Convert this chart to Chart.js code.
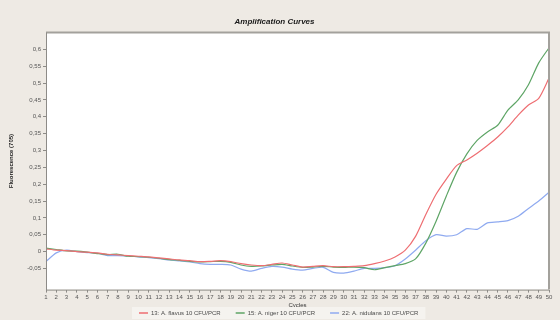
<!DOCTYPE html>
<html>
<head>
<meta charset="utf-8">
<script src="https://cdn.jsdelivr.net/npm/chart.js@4/dist/chart.umd.min.js"></script>
<style>
  html, body { margin: 0; padding: 0; background: #eeeae4; }
  #wrap { width: 560px; height: 320px; position: relative; }
</style>
</head>
<body>
<div id="wrap"><canvas id="c" width="560" height="320"></canvas></div>
<script>
// PCR cycle numbers
const cycles = Array.from({length: 50}, (_, i) => String(i + 1));

// Fluorescence per cycle for each sample
const flavus = [
  0.008, 0.004, 0.003, 0.000, -0.002, -0.004, -0.008, -0.010, -0.012, -0.014,
  -0.016, -0.019, -0.022, -0.025, -0.027, -0.030, -0.029, -0.027, -0.030, -0.036,
  -0.040, -0.042, -0.038, -0.034, -0.040, -0.046, -0.044, -0.042, -0.045, -0.045,
  -0.044, -0.042, -0.036, -0.028, -0.016, 0.004, 0.045, 0.110, 0.170, 0.215,
  0.255, 0.272, 0.292, 0.315, 0.340, 0.370, 0.405, 0.435, 0.455, 0.515
];
const niger = [
  0.010, 0.006, 0.002, 0.001, -0.002, -0.006, -0.009, -0.008, -0.014, -0.015,
  -0.017, -0.020, -0.024, -0.026, -0.029, -0.031, -0.030, -0.029, -0.032, -0.040,
  -0.044, -0.043, -0.040, -0.038, -0.043, -0.047, -0.046, -0.044, -0.046, -0.047,
  -0.046, -0.048, -0.054, -0.048, -0.042, -0.036, -0.022, 0.025, 0.090, 0.165,
  0.235, 0.290, 0.330, 0.355, 0.375, 0.420, 0.450, 0.495, 0.560, 0.605
];
const nidulans = [
  -0.030, -0.004, 0.004, 0.000, -0.003, -0.005, -0.012, -0.012, -0.013, -0.016,
  -0.018, -0.021, -0.025, -0.028, -0.031, -0.036, -0.038, -0.038, -0.040, -0.052,
  -0.058, -0.050, -0.044, -0.046, -0.052, -0.055, -0.050, -0.047, -0.062, -0.064,
  -0.058, -0.050, -0.050, -0.048, -0.042, -0.022, 0.004, 0.032, 0.050, 0.046,
  0.050, 0.068, 0.066, 0.085, 0.088, 0.092, 0.105, 0.128, 0.150, 0.176
];

// Series names
const seriesNames = [
  '13: A. flavus 10 CFU/PCR',
  '15: A. niger 10 CFU/PCR',
  '22: A. nidulans 10 CFU/PCR'
];

// Y-axis tick values and their labels
const yTicks = [-0.05, 0, 0.05, 0.1, 0.15, 0.2, 0.25, 0.3, 0.35, 0.4, 0.45, 0.5, 0.55, 0.6];
const yTickLabels = ['-0,05', '0', '0,05', '0,1', '0,15', '0,2', '0,25', '0,3', '0,35', '0,4', '0,45', '0,5', '0,55', '0,6'];

const BG = '#eeeae4';
const FONT = 'Liberation Sans, Arial, sans-serif';

// Background, plot frame and a one-row legend strip under the axis
const framePlugin = {
  id: 'frame',
  beforeDraw(chart) {
    const ctx = chart.ctx;
    const a = chart.chartArea;
    ctx.save();
    ctx.fillStyle = BG;
    ctx.fillRect(0, 0, chart.width, chart.height);
    ctx.fillStyle = '#ffffff';
    ctx.fillRect(a.left, a.top, a.right - a.left, a.bottom - a.top);
    ctx.restore();
  },
  afterDraw(chart) {
    const ctx = chart.ctx;
    const a = chart.chartArea;
    ctx.save();
    ctx.strokeStyle = '#a3a19c';
    ctx.lineWidth = 2;
    ctx.beginPath();
    ctx.moveTo(a.left, a.top);
    ctx.lineTo(a.right, a.top);
    ctx.lineTo(a.right, a.bottom);
    ctx.stroke();
    ctx.strokeStyle = '#8d8b87';
    ctx.lineWidth = 1;
    ctx.beginPath();
    ctx.moveTo(a.left + 0.5, a.top);
    ctx.lineTo(a.left + 0.5, a.bottom + 0.5);
    ctx.lineTo(a.right, a.bottom + 0.5);
    ctx.stroke();

    // legend
    ctx.font = '6px ' + FONT;
    ctx.textBaseline = 'middle';
    const lineLen = 9, textGap = 3, itemGap = 15;
    const items = chart.data.datasets.map(ds => ({
      text: ds.label, color: ds.borderColor, w: ctx.measureText(ds.label).width
    }));
    const total = items.reduce((s, it) => s + lineLen + textGap + it.w, 0) + itemGap * (items.length - 1);
    let x = Math.round(279 - total / 2);
    const y = 313;
    ctx.fillStyle = '#f5f3ef';
    ctx.fillRect(x - 7, y - 6, total + 14, 12);
    items.forEach(it => {
      ctx.strokeStyle = it.color;
      ctx.lineWidth = 1.5;
      ctx.beginPath();
      ctx.moveTo(x, y);
      ctx.lineTo(x + lineLen, y);
      ctx.stroke();
      x += lineLen + textGap;
      ctx.fillStyle = '#4a4a4a';
      ctx.fillText(it.text, x, y);
      x += it.w + itemGap;
    });
    ctx.restore();
  }
};

const tickFont = { family: FONT, size: 6 };

new Chart(document.getElementById('c'), {
  type: 'line',
  data: {
    labels: cycles,
    datasets: [
      { label: seriesNames[0], data: flavus, borderColor: '#ee6e72', backgroundColor: '#ee6e72' },
      { label: seriesNames[1], data: niger, borderColor: '#5ea566', backgroundColor: '#5ea566' },
      { label: seriesNames[2], data: nidulans, borderColor: '#8faaf0', backgroundColor: '#8faaf0' }
    ]
  },
  options: {
    responsive: false,
    animation: false,
    devicePixelRatio: 1,
    layout: { padding: { left: 0, right: 11, top: 0, bottom: 11 } },
    elements: {
      point: { radius: 0 },
      line: { borderWidth: 1.2, tension: 0.25 }
    },
    plugins: {
      tooltip: { enabled: false },
      legend: { display: false },
      title: {
        display: true,
        text: 'Amplification Curves',
        color: '#1a1a1a',
        font: { family: FONT, size: 8, weight: 'bold', style: 'italic' },
        padding: { top: 17, bottom: 6 }
      }
    },
    scales: {
      x: {
        type: 'category',
        offset: false,
        grid: { display: true, drawOnChartArea: false, drawTicks: true, tickLength: 3, color: '#8d8b87' },
        border: { display: false },
        ticks: { color: '#555', font: tickFont, autoSkip: false, maxRotation: 0, padding: 1 },
        title: { display: true, text: 'Cycles', color: '#333', font: tickFont, padding: { top: 0, bottom: 0 } }
      },
      y: {
        min: -0.113,
        max: 0.65,
        afterBuildTicks(scale) { scale.ticks = yTicks.map(v => ({ value: v })); },
        afterFit(scale) { scale.width = 46; },
        grid: { display: true, drawOnChartArea: false, drawTicks: true, tickLength: 3, color: '#8d8b87' },
        border: { display: false },
        ticks: {
          color: '#555',
          font: tickFont,
          padding: 2,
          callback(value) {
            const i = yTicks.findIndex(v => Math.abs(v - value) < 1e-9);
            return i >= 0 ? yTickLabels[i] : '';
          }
        },
        title: {
          display: true,
          text: 'Fluorescence (705)',
          color: '#222',
          font: { family: FONT, size: 6, weight: 'bold' },
          padding: { top: 8, bottom: 0 }
        }
      }
    }
  },
  plugins: [framePlugin]
});
</script>
</body>
</html>
